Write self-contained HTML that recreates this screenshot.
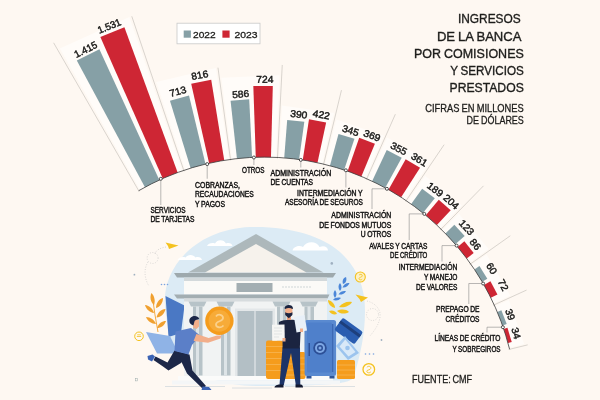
<!DOCTYPE html>
<html lang="es"><head><meta charset="utf-8"><title>Ingresos de la banca por comisiones y servicios prestados</title>
<style>
html,body{margin:0;padding:0;background:#fef8f2;}
body{width:600px;height:400px;overflow:hidden;}
svg{display:block;}
text{font-family:"Liberation Sans",sans-serif;fill:#1d1d1b;}
.v{font-size:9.9px;stroke:#1a1a18;stroke-width:0.45px;}
.t{font-size:13.2px;stroke:#1d1d1b;stroke-width:0.35px;word-spacing:-0.6px;}
.s{font-size:10.6px;stroke:#1d1d1b;stroke-width:0.3px;word-spacing:-0.5px;}
.l{font-size:8.4px;fill:#111;stroke:#111;stroke-width:0.42px;word-spacing:-0.3px;}
.lg{font-size:9.6px;stroke:#1d1d1b;stroke-width:0.3px;}
.src{font-size:10.6px;stroke:#1d1d1b;stroke-width:0.3px;word-spacing:-1px;}
.ld{fill:none;stroke:#8a8a8a;stroke-width:0.6;}
.dot{fill:#fff;stroke:#2a2a2a;stroke-width:0.8;}
</style></head><body>
<svg width="600" height="400" viewBox="0 0 600 400">
<rect width="600" height="400" fill="#fef8f2"/>
<g id="illustration">
<!-- sky blob -->
<path d="M165 305C162 266 198 229 250 227C290 226 322 236 340 252C352 263 362 278 364.500 300C366.500 325 362 350 354 376C352 382 345 386 262 386C196 386 169 362 165 305Z" fill="#dcebf5"/>
<!-- clouds -->
<path d="M207 246c1-2.500 5-3.500 8-2.500c2-4.500 9-4.500 11 0c3-1 6 0 6.500 2.500z" fill="#fff"/>
<path d="M177.500 260c1-2.500 5-3.500 8-2.500c2-3.500 8-3.500 10 0c3-1 6 0 6.500 2.500z" fill="#fff"/>
<path d="M292.500 250.500c1-4 7-5.500 10.500-3.500c3-6.500 14-6.500 16.500 0c4.500-2 8.500 0 8.500 3.500z" fill="#fff"/>
<!-- left decorations -->
<path d="M165.500 242.500l13 3l-9.500 3.500l-1-3z" fill="#f4c21f"/>
<path d="M166 247c-6 1-10 3-11 7" fill="none" stroke="#bdbdbd" stroke-width="0.600" stroke-dasharray="1 1.500"/>
<circle cx="152.600" cy="258" r="5.500" fill="none" stroke="#c4c4c4" stroke-width="0.600" stroke-dasharray="1 1.500"/>
<path d="M148 262c-5 8-3 18 1 24" fill="none" stroke="#c4c4c4" stroke-width="0.600" stroke-dasharray="1 1.500"/>
<g fill="#f0a030">
<path d="M151.500 293c3 3 4 8 2.500 12c-3.500-3-4.500-8-2.500-12z"/>
<path d="M163 298c0 5-3 9-7 10c0-5 3-9 7-10z"/>
<path d="M145 305c4.500 0.500 8 4 9 8c-4.500-0.500-8-4-9-8z"/>
<path d="M165.500 309c-1 5-4.500 8-9 8.500c1-5 4.500-8 9-8.500z"/>
<path d="M146 317c4.500 0 8.500 3 10 7c-4.500 0-8.500-3-10-7z"/>
<path d="M166 321c-1.500 4.500-5 7-9 7c1.500-4.500 5-7 9-7z"/>
<path d="M152.500 297q2 17 5.500 35" fill="none" stroke="#f0a030" stroke-width="0.900"/>
</g>
<path d="M165.500 296L184.500 305.500L181 333L168.500 337Z" fill="#4a78c4"/>
<path d="M146 332L170 336L178.500 353.500L157 353.500Z" fill="#8fb3e6"/>
<circle cx="139" cy="336.300" r="4.300" fill="none" stroke="#f4c21f" stroke-width="1"/>
<path d="M136.800 336.500h4.400M137.200 334.800h3.600" stroke="#f4c21f" stroke-width="0.800"/>
<!-- building -->
<rect x="184" y="298" width="143" height="78" fill="#f1f3f3"/>
<path d="M188 272.500L256 234L323.500 272.500Z" fill="#adb8bb"/>
<path d="M205 272.500L256 244L306.500 272.500Z" fill="#f6f2ec"/>
<path d="M174 273H336L333 277.500H177Z" fill="#9ea9ad"/>
<rect x="184" y="277.500" width="143" height="3.500" fill="#d3d9db"/>
<rect x="184" y="281" width="143" height="13.500" fill="#fbfaf7"/>
<rect x="236.500" y="283" width="36" height="9" fill="#a3aeb2"/>
<path d="M282 287h30" stroke="#cfd5d7" stroke-width="1.200" stroke-dasharray="2 1"/>
<path d="M174 294.500H329.500L327.500 298.500H177Z" fill="#a3aeb2"/>
<rect x="184" y="298.500" width="143" height="3" fill="#d7dcde"/>
<!-- columns -->
<g fill="#b7c3c8">
<path d="M188.500 301.500h18l-2.500 5h-13z"/><rect x="193" y="306.500" width="9.500" height="69"/>
<path d="M216.500 301.500h18l-2.500 5h-13z"/><rect x="221" y="306.500" width="9.500" height="69"/>
<path d="M272.500 301.500h18l-2.500 5h-13z"/><rect x="277" y="306.500" width="9.500" height="69"/>
<path d="M300 301.500h18l-2.500 5h-13z"/><rect x="304.500" y="306.500" width="9.500" height="69"/>
</g>
<g fill="#dde4e7">
<rect x="196" y="306.500" width="3" height="69"/><rect x="224" y="306.500" width="3" height="69"/><rect x="307.500" y="306.500" width="3" height="69"/><rect x="280" y="306.500" width="3" height="69"/>
</g>
<!-- door -->
<rect x="235" y="308.500" width="40" height="67.500" fill="#e3e7e9"/>
<rect x="237.500" y="311" width="35" height="65" fill="#b3bfc5"/>
<rect x="254.400" y="311" width="1.200" height="65" fill="#e3e7e9"/>
<!-- base -->
<rect x="178" y="376" width="155" height="4.500" fill="#fbfbfa"/>
<rect x="172" y="380.500" width="168" height="4" fill="#f4f6f7"/>
<path d="M165 386.500h60M232 388h40M285 386.500h70" stroke="#d8dde0" stroke-width="0.900"/>
<!-- running man -->
<g>
<path d="M174.500 350.500L188 354L181 363L168.500 370.500L163 366.500L153.500 360L155.500 356.500L167.500 362.500Z" fill="#1c2748"/>
<path d="M178 352L189.500 354.500L192.500 370.500L206 386L202.500 388.500L187 373.500L181.500 362Z" fill="#1c2748"/>
<path d="M147.500 356l5-1.500l2.500 2l-3 5l-4-2z" fill="#3b63b4"/>
<path d="M202.500 386.500l6.500 0.500l2.500 3h-10z" fill="#3b63b4"/>
<path d="M175.500 331.500L191 328L200 335.500L192 345L188.500 354.500L174.500 351Z" fill="#5b7fc8"/>
<path d="M196.400 334L208.700 338L217 335.500L221.500 335.500L220.500 338.500L208 342.800L193.600 340.900Z" fill="#f2ae8a"/>
<path d="M193.600 320h5.400v6.500l-2.500 2.500l-3.500-1.500z" fill="#f2ae8a"/>
<path d="M189.300 321c0-5 8-7 10-2c-1.500 1-4 0.500-4.700 2l-1.200 4.500c-2.400-0.500-4.100-2.500-4.100-4.500z" fill="#1c2748"/>
</g>
<!-- big coin -->
<circle cx="219.400" cy="320.800" r="14.200" fill="#f59c1c"/>
<circle cx="219.400" cy="320.800" r="10.800" fill="#f7ab38"/>
<path d="M216 316.500c2-3 7-2 7 1.500c0 4-7 2.500-7 6.500c0 3 5 4 7.500 1" fill="none" stroke="#fbd08a" stroke-width="1.800"/>
<!-- coin stacks behind man2 -->
<g fill="#f59c1c">
<rect x="266" y="340.500" width="17" height="38.500" rx="2"/>
<rect x="283" y="352" width="22.500" height="27" rx="2"/>
</g>
<g stroke="#f8b95a" stroke-width="0.700">
<path d="M266 346.500h17M266 352.500h17M266 358.500h17M266 364.500h17M266 370.500h17M283 358h22M283 364h22M283 370h22M283 375h22"/>
</g>
<!-- safe -->
<rect x="304.600" y="320" width="31.500" height="56" rx="2.500" fill="#5a8ad0"/>
<rect x="307" y="322.500" width="25" height="50" rx="1.500" fill="#4f80cb"/>
<rect x="332" y="324" width="1.300" height="48" fill="#3c69b4"/>
<rect x="306.500" y="376" width="5" height="2.500" fill="#2f5597"/><rect x="329.500" y="376" width="5" height="2.500" fill="#2f5597"/>
<circle cx="320" cy="348" r="6.800" fill="#2c4f96"/>
<circle cx="320" cy="348" r="5" fill="#7ea8e4"/>
<circle cx="320" cy="348" r="3" fill="#2c4f96"/>
<circle cx="320" cy="348" r="1.500" fill="#7ea8e4"/>
<rect x="308.500" y="343" width="1.500" height="13" fill="#2c4f96"/>
<!-- standing man -->
<g>
<path d="M282.500 347.500H300L300.300 385H295.800L291 353L283.800 385H279.500Z" fill="#1c3468"/>
<path d="M274.500 387.500c0-2 3-3 5-3h4v3z" fill="#141a30"/><path d="M295.500 384.500h5c2 0 2.500 1.500 2.500 3h-7.500z" fill="#141a30"/>
<path d="M279 322C283 319.500 294 319 298.500 321L303 327L300.500 333L299.800 348.500H282.600L282.500 338L277.500 336Z" fill="#1b2440"/>
<rect x="287" y="314" width="4" height="6" fill="#e89f7c"/>
<path d="M285.200 307.500h7.200v6.500l-3.600 3.500l-3.600-3.500z" fill="#f2ae8a"/>
<path d="M284.600 308.500c-0.500-4.500 8.500-4.800 8.400 0l-0.600 0.500c-2-1.500-5-1.500-7.200 0z" fill="#1b2440"/>
<path d="M285.200 312.300c2 1.200 5.200 1.200 7.200 0v2.700l-3.600 3.300l-3.600-3.300z" fill="#1b2440"/>
<path d="M272 324.800L284.500 324.500L284.800 340.500L272.300 340.800Z" fill="#f6f6f4"/>
<path d="M274 328h8M274 331h8M274 334h8M274 337h5" stroke="#d9dcdd" stroke-width="0.700"/>
<path d="M294 317L304.500 315L307 330.500L296.500 332.500Z" fill="#e8f0f8"/>
<rect x="282.500" y="338" width="3" height="3.500" fill="#f2ae8a"/>
<rect x="300" y="328.500" width="3" height="3.500" fill="#f2ae8a"/>
</g>
<!-- right items -->
<g transform="translate(348.600 331) rotate(36)"><rect x="-12.500" y="-7.500" width="25" height="15" rx="2" fill="#2a5db0"/><rect x="-12.500" y="-4" width="25" height="3" fill="#1d3f7c"/></g>
<path d="M345 336L359 353L348 360L336 346Z" fill="#9cc4ee"/>
<path d="M345.300 339.500L355.500 352L348.500 356.500L339.500 346.500Z" fill="#d9e9f8"/>
<circle cx="347.500" cy="348" r="2.300" fill="#9cc4ee"/>
<g fill="#f59c1c"><rect x="337" y="360" width="18" height="19" rx="1.500"/></g>
<path d="M337 365h18M337 370h18M337 375h18" stroke="#f8b95a" stroke-width="0.700"/>
<circle cx="368.800" cy="369.400" r="5.800" fill="none" stroke="#f4c21f" stroke-width="1.300"/>
<path d="M366.800 367.400c1.500-2 4.500-1 4 1c-0.500 2-4 1-4 3c0 1.500 3 2 4 0.500" fill="none" stroke="#f4c21f" stroke-width="0.900"/>
<circle cx="360.300" cy="277" r="5" fill="#fdf0c4" stroke="#f4c21f" stroke-width="1.100"/><path d="M359 275.200c1-1.500 3.500-1 3.300 0.700c-0.300 1.700-3.300 1-3.300 2.800c0 1.300 2.300 1.600 3.200 0.400" fill="none" stroke="#f4c21f" stroke-width="0.800"/>
<path d="M355.500 294.500l12.500 3l-7 4.500l-1.500-3z" fill="#f4c21f"/>
<circle cx="372.500" cy="314.500" r="6" fill="none" stroke="#c4c4c4" stroke-width="0.600" stroke-dasharray="1 1.500"/><path d="M367 301c8 2 14 8 13 16c-1 8-6 14-10 19" fill="none" stroke="#c4c4c4" stroke-width="0.600" stroke-dasharray="1 1.500"/>
<g fill="#4a86d8">
<path d="M346 277c1 3 0 6-3 7c-1-3 0-6 3-7z"/><path d="M349.500 283c-1 3-4 5-7 4.500c1-3 4-5 7-4.500z"/>
<path d="M340 283c2 2.500 2 6 0 8c-2-2.500-2-6 0-8z"/><path d="M346 291c-1.500 3-4.500 4-7.500 3.500c1.500-3 4.500-4 7.500-3.500z"/>
<path d="M335 290c2 2.500 2 5.500 0 8c-2-2.500-2-5.500 0-8z"/><path d="M341 298c-2 2.500-5 3-8 2c2-2.500 5-3 8-2z"/>
</g>
<g fill="#f4c21f">
<path d="M352 302c-2 4-8 6-13 5c3-4 8-6 13-5z"/><path d="M328 300c4 1 7 4 7 8c-4-1-7-4-7-8z"/>
<path d="M349 312c-4 2.500-9 2-12-1c4-2 9-2 12 1z"/><path d="M329 311c3-1.500 7 0 8 3c-3 1-6.500 0-8-3z"/>
</g>
<circle cx="331.800" cy="263.400" r="1.300" fill="#9fb0c0"/>
<circle cx="381.500" cy="340" r="0.900" fill="#9fb0c0"/><circle cx="365.500" cy="354" r="0.800" fill="#7aa3e0"/><circle cx="369.500" cy="354" r="0.800" fill="#7aa3e0"/><circle cx="373.500" cy="354" r="0.800" fill="#7aa3e0"/>
<circle cx="161.500" cy="284.500" r="0.800" fill="#7aa3e0"/><circle cx="164.500" cy="284.500" r="0.800" fill="#7aa3e0"/><circle cx="167.500" cy="284.500" r="0.800" fill="#7aa3e0"/>
<circle cx="134.400" cy="274.700" r="0.900" fill="#9fb0c0"/><rect x="135.400" y="378.700" width="2.200" height="2.200" fill="none" stroke="#9aa" stroke-width="0.500"/>

</g>
<g id="chart">
<polygon points="140.02,189.93 59.83,48.48 129.39,17.11 182.33,170.85" fill="#fffcf9"/>
<polygon points="185.25,169.87 156.17,81.95 215.89,67.94 228.94,159.62" fill="#fffcf9"/>
<polygon points="231.99,159.2 221.4,77.69 279.68,75.24 275.95,157.36" fill="#fffcf9"/>
<polygon points="279.03,157.52 282.03,105.41 334.06,112.95 322.14,163.77" fill="#fffcf9"/>
<polygon points="325.13,164.49 336.26,119.55 383.85,135.68 365.35,178.12" fill="#fffcf9"/>
<polygon points="368.17,179.37 387.06,137.43 430.5,161.53 404.91,199.76" fill="#fffcf9"/>
<polygon points="407.46,201.49 425.19,175.7 461.75,205.6 439.99,228.09" fill="#fffcf9"/>
<polygon points="442.19,230.25 458.74,213.56 488.83,248.89 469.73,262.57" fill="#fffcf9"/>
<polygon points="471.51,265.09 486.6,254.56 510.23,295.7 493.53,303.43" fill="#fffcf9"/>
<polygon points="494.81,306.24 508.86,299.94 524.17,344.03 509.24,347.8" fill="#fffcf9"/>
<line x1="139.18" y1="191.56" x2="53.64" y2="42.8" stroke="#cfcac4" stroke-width="0.8"/>
<line x1="184.11" y1="171.3" x2="131.79" y2="16.29" stroke="#cfcac4" stroke-width="0.8"/>
<line x1="230.6" y1="160.4" x2="217.98" y2="67.65" stroke="#cfcac4" stroke-width="0.8"/>
<line x1="277.44" y1="158.43" x2="282.26" y2="64.96" stroke="#cfcac4" stroke-width="0.8"/>
<line x1="323.4" y1="165.1" x2="341.47" y2="90.14" stroke="#cfcac4" stroke-width="0.8"/>
<line x1="366.35" y1="179.66" x2="395.36" y2="114.2" stroke="#cfcac4" stroke-width="0.8"/>
<line x1="405.63" y1="201.45" x2="444.14" y2="144.68" stroke="#cfcac4" stroke-width="0.8"/>
<line x1="440.4" y1="229.88" x2="483.49" y2="185.87" stroke="#cfcac4" stroke-width="0.8"/>
<line x1="469.8" y1="264.41" x2="510.31" y2="235.78" stroke="#cfcac4" stroke-width="0.8"/>
<line x1="493.26" y1="305.25" x2="526.57" y2="290.07" stroke="#cfcac4" stroke-width="0.8"/>
<line x1="508.64" y1="349.53" x2="527.68" y2="344.86" stroke="#cfcac4" stroke-width="0.8"/>
<polygon points="144.96,187.2 76.8,60.47 99.4,49.23 159.35,180.05" fill="#86a0a6"/>
<polygon points="162.73,178.53 100.35,36.96 124.4,27.27 177.64,172.52" fill="#ce2634"/>
<polygon points="190.62,168.15 169.96,100.65 188.99,95.45 205.49,164.09" fill="#86a0a6"/>
<polygon points="209.1,163.26 191.19,83.65 211.21,79.78 224.23,160.33" fill="#ce2634"/>
<polygon points="236.93,158.61 230.57,100.66 249.21,99.18 252.08,157.41" fill="#86a0a6"/>
<polygon points="255.78,157.25 253.32,86.09 272.8,86.01 270.97,157.18" fill="#ce2634"/>
<polygon points="284.22,157.87 287.19,119.89 304.33,121.74 299.1,159.48" fill="#86a0a6"/>
<polygon points="302.77,160.02 309.01,119.29 326.14,122.44 317.49,162.73" fill="#ce2634"/>
<polygon points="329.95,165.73 338.49,133.96 354.46,138.75 344.09,169.98" fill="#86a0a6"/>
<polygon points="347.59,171.17 359.21,137.84 374.92,143.83 361.37,176.43" fill="#ce2634"/>
<polygon points="372.09,181.18 386.75,150.06 401.7,157.65 385.24,187.85" fill="#86a0a6"/>
<polygon points="388.48,189.65 405.67,159.16 420.06,167.84 401.12,197.27" fill="#ce2634"/>
<polygon points="411.18,204.09 422.16,188.71 434.79,198.3 422.93,213.02" fill="#86a0a6"/>
<polygon points="425.79,215.36 438.77,199.75 450.72,210.29 436.86,225.12" fill="#ce2634"/>
<polygon points="445.39,233.47 454.35,224.75 464.67,235.99 455.22,244.18" fill="#86a0a6"/>
<polygon points="457.62,246.99 464.36,241.32 473.71,253.11 466.66,258.38" fill="#ce2634"/>
<polygon points="474.44,269.38 479.43,266.05 487.33,278.66 482.15,281.7" fill="#86a0a6"/>
<polygon points="484,284.91 490.44,281.25 497.45,294.47 490.81,297.75" fill="#ce2634"/>
<polygon points="497.31,312.02 501.37,310.32 506.69,324.12 502.54,325.58" fill="#86a0a6"/>
<polygon points="503.74,329.08 507.44,327.84 511.74,341.96 507.98,342.98" fill="#ce2634"/>
<path d="M138.68 190.7A252.4 252.4 0 0 1 509.61 349.29" fill="none" stroke="#3a3a3a" stroke-width="0.8"/>
<text x="0" y="0" transform="translate(87.21 52.61) rotate(-26.35)" text-anchor="middle" class="v" textLength="24.4" lengthAdjust="spacingAndGlyphs">1.415</text>
<text x="0" y="0" transform="translate(110.43 29.22) rotate(-22.05)" text-anchor="middle" class="v" textLength="24.4" lengthAdjust="spacingAndGlyphs">1.531</text>
<text x="0" y="0" transform="translate(178.73 94.78) rotate(-15.24)" text-anchor="middle" class="v" textLength="17.1" lengthAdjust="spacingAndGlyphs">713</text>
<text x="0" y="0" transform="translate(200.42 78.44) rotate(-10.96)" text-anchor="middle" class="v" textLength="17.1" lengthAdjust="spacingAndGlyphs">816</text>
<text x="0" y="0" transform="translate(240.9 97.49) rotate(-4.54)" text-anchor="middle" class="v" textLength="17.1" lengthAdjust="spacingAndGlyphs">586</text>
<text x="0" y="0" transform="translate(264.85 82.7) rotate(-0.25)" text-anchor="middle" class="v" textLength="17.1" lengthAdjust="spacingAndGlyphs">724</text>
<text x="0" y="0" transform="translate(298.48 117.76) rotate(6.16)" text-anchor="middle" class="v" textLength="17.1" lengthAdjust="spacingAndGlyphs">390</text>
<text x="0" y="0" transform="translate(320.77 118.07) rotate(10.45)" text-anchor="middle" class="v" textLength="17.1" lengthAdjust="spacingAndGlyphs">422</text>
<text x="0" y="0" transform="translate(349.58 133.82) rotate(16.65)" text-anchor="middle" class="v" textLength="17.1" lengthAdjust="spacingAndGlyphs">345</text>
<text x="0" y="0" transform="translate(370.82 138.72) rotate(20.95)" text-anchor="middle" class="v" textLength="17.1" lengthAdjust="spacingAndGlyphs">369</text>
<text x="0" y="0" transform="translate(397.29 151.68) rotate(26.85)" text-anchor="middle" class="v" textLength="17.1" lengthAdjust="spacingAndGlyphs">355</text>
<text x="0" y="0" transform="translate(417.54 162.44) rotate(31.15)" text-anchor="middle" class="v" textLength="17.1" lengthAdjust="spacingAndGlyphs">361</text>
<text x="0" y="0" transform="translate(433.14 192.26) rotate(37.15)" text-anchor="middle" class="v" textLength="17.1" lengthAdjust="spacingAndGlyphs">189</text>
<text x="0" y="0" transform="translate(448.99 204.34) rotate(41.45)" text-anchor="middle" class="v" textLength="17.1" lengthAdjust="spacingAndGlyphs">204</text>
<text x="0" y="0" transform="translate(464.11 229.74) rotate(47.35)" text-anchor="middle" class="v" textLength="17.1" lengthAdjust="spacingAndGlyphs">123</text>
<text x="0" y="0" transform="translate(472.64 246.45) rotate(51.65)" text-anchor="middle" class="v" textLength="11.4" lengthAdjust="spacingAndGlyphs">86</text>
<text x="0" y="0" transform="translate(488.74 270.36) rotate(57.85)" text-anchor="middle" class="v" textLength="11.4" lengthAdjust="spacingAndGlyphs">60</text>
<text x="0" y="0" transform="translate(500.2 286.63) rotate(62.15)" text-anchor="middle" class="v" textLength="11.4" lengthAdjust="spacingAndGlyphs">72</text>
<text x="0" y="0" transform="translate(506.99 315.71) rotate(68.86)" text-anchor="middle" class="v" textLength="11.4" lengthAdjust="spacingAndGlyphs">39</text>
<text x="0" y="0" transform="translate(512.85 334.26) rotate(73.14)" text-anchor="middle" class="v" textLength="11.4" lengthAdjust="spacingAndGlyphs">34</text>
</g>
<g id="labels">
<text x="520.8" y="23.3" class="t" text-anchor="end" textLength="62.9" lengthAdjust="spacingAndGlyphs">INGRESOS</text>
<text x="521.5" y="40.8" class="t" text-anchor="end" textLength="84.6" lengthAdjust="spacingAndGlyphs">DE LA BANCA</text>
<text x="523.8" y="57.6" class="t" text-anchor="end" textLength="109.8" lengthAdjust="spacingAndGlyphs">POR COMISIONES</text>
<text x="523.8" y="75.1" class="t" text-anchor="end" textLength="73.6" lengthAdjust="spacingAndGlyphs">Y SERVICIOS</text>
<text x="523.8" y="92.4" class="t" text-anchor="end" textLength="74.3" lengthAdjust="spacingAndGlyphs">PRESTADOS</text>
<text x="523.8" y="111.5" class="s" text-anchor="end" textLength="98.6" lengthAdjust="spacingAndGlyphs">CIFRAS EN MILLONES</text>
<text x="523.8" y="123.7" class="s" text-anchor="end" textLength="57.3" lengthAdjust="spacingAndGlyphs">DE DÓLARES</text>
<rect x="177" y="23.2" width="83" height="20.6" fill="#fff" stroke="#c9c9c9" stroke-width="0.8"/>
<rect x="183.7" y="30.5" width="7.2" height="7.2" fill="#86a0a6"/>
<rect x="222.4" y="30.5" width="7.2" height="7.2" fill="#ce2634"/>
<text x="193" y="38" class="lg" text-anchor="start" textLength="22.6" lengthAdjust="spacingAndGlyphs">2022</text>
<text x="234.5" y="38" class="lg" text-anchor="start" textLength="23.1" lengthAdjust="spacingAndGlyphs">2023</text>
<text x="150.5" y="213" class="l" text-anchor="start" textLength="35" lengthAdjust="spacingAndGlyphs">SERVICIOS</text>
<text x="150.5" y="222.3" class="l" text-anchor="start" textLength="44" lengthAdjust="spacingAndGlyphs">DE TARJETAS</text>
<text x="195" y="187.5" class="l" text-anchor="start" textLength="45" lengthAdjust="spacingAndGlyphs">COBRANZAS,</text>
<text x="195" y="196.9" class="l" text-anchor="start" textLength="58.75" lengthAdjust="spacingAndGlyphs">RECAUDACIONES</text>
<text x="195" y="206.6" class="l" text-anchor="start" textLength="30" lengthAdjust="spacingAndGlyphs">Y PAGOS</text>
<text x="242" y="173" class="l" text-anchor="start" textLength="22.5" lengthAdjust="spacingAndGlyphs">OTROS</text>
<text x="270.5" y="175.75" class="l" text-anchor="start" textLength="60.75" lengthAdjust="spacingAndGlyphs">ADMINISTRACIÓN</text>
<text x="270.5" y="185.1" class="l" text-anchor="start" textLength="42.5" lengthAdjust="spacingAndGlyphs">DE CUENTAS</text>
<text x="362.7" y="195.5" class="l" text-anchor="end" textLength="65.7" lengthAdjust="spacingAndGlyphs">INTERMEDIACIÓN Y</text>
<text x="362.9" y="205" class="l" text-anchor="end" textLength="77.9" lengthAdjust="spacingAndGlyphs">ASESORÍA DE SEGUROS</text>
<text x="391.3" y="217.8" class="l" text-anchor="end" textLength="60" lengthAdjust="spacingAndGlyphs">ADMINISTRACIÓN</text>
<text x="391.3" y="227.5" class="l" text-anchor="end" textLength="72" lengthAdjust="spacingAndGlyphs">DE FONDOS MUTUOS</text>
<text x="391.3" y="237.3" class="l" text-anchor="end" textLength="30.6" lengthAdjust="spacingAndGlyphs">U OTROS</text>
<text x="427.3" y="248.5" class="l" text-anchor="end" textLength="58.1" lengthAdjust="spacingAndGlyphs">AVALES Y CARTAS</text>
<text x="427.3" y="257.9" class="l" text-anchor="end" textLength="37.3" lengthAdjust="spacingAndGlyphs">DE CRÉDITO</text>
<text x="457.3" y="270" class="l" text-anchor="end" textLength="58.6" lengthAdjust="spacingAndGlyphs">INTERMEDIACIÓN</text>
<text x="457.3" y="279.9" class="l" text-anchor="end" textLength="33.3" lengthAdjust="spacingAndGlyphs">Y MANEJO</text>
<text x="457.3" y="290" class="l" text-anchor="end" textLength="41.3" lengthAdjust="spacingAndGlyphs">DE VALORES</text>
<text x="479.5" y="312.1" class="l" text-anchor="end" textLength="43.5" lengthAdjust="spacingAndGlyphs">PREPAGO DE</text>
<text x="479.5" y="321.5" class="l" text-anchor="end" textLength="33.9" lengthAdjust="spacingAndGlyphs">CRÉDITOS</text>
<text x="500.5" y="341.2" class="l" text-anchor="end" textLength="66" lengthAdjust="spacingAndGlyphs">LÍNEAS DE CRÉDITO</text>
<text x="500.5" y="352" class="l" text-anchor="end" textLength="48" lengthAdjust="spacingAndGlyphs">Y SOBREGIROS</text>
<text x="412" y="383" class="src" text-anchor="start" textLength="60" lengthAdjust="spacingAndGlyphs">FUENTE: CMF</text>
<path class="ld" d="M160.8 180.3V205"/>
<path class="ld" d="M207.2 165.6V178.75"/>
<path class="ld" d="M253.9 159V165"/>
<path class="ld" d="M300.8 161.4V167.5"/>
<path class="ld" d="M345.9 171.8V187.5"/>
<path class="ld" d="M385.4 188.8H372V209"/>
<path class="ld" d="M422.8 213.9H409.2V240"/>
<path class="ld" d="M455.1 245.6H442V261.5"/>
<path class="ld" d="M481.6 283.5H468.8V304"/>
<path class="ld" d="M501.4 327.2H487V332.5"/>
<circle class="dot" cx="160.8" cy="178.8" r="1.5"/>
<circle class="dot" cx="207.2" cy="164.1" r="1.5"/>
<circle class="dot" cx="253.9" cy="157.5" r="1.5"/>
<circle class="dot" cx="300.8" cy="159.9" r="1.5"/>
<circle class="dot" cx="345.9" cy="170.3" r="1.5"/>
<circle class="dot" cx="386.9" cy="188.8" r="1.5"/>
<circle class="dot" cx="424.3" cy="213.9" r="1.5"/>
<circle class="dot" cx="456.6" cy="245.6" r="1.5"/>
<circle class="dot" cx="483.1" cy="283.5" r="1.5"/>
<circle class="dot" cx="502.9" cy="327.2" r="1.5"/>
</g>
</svg>
</body></html>
